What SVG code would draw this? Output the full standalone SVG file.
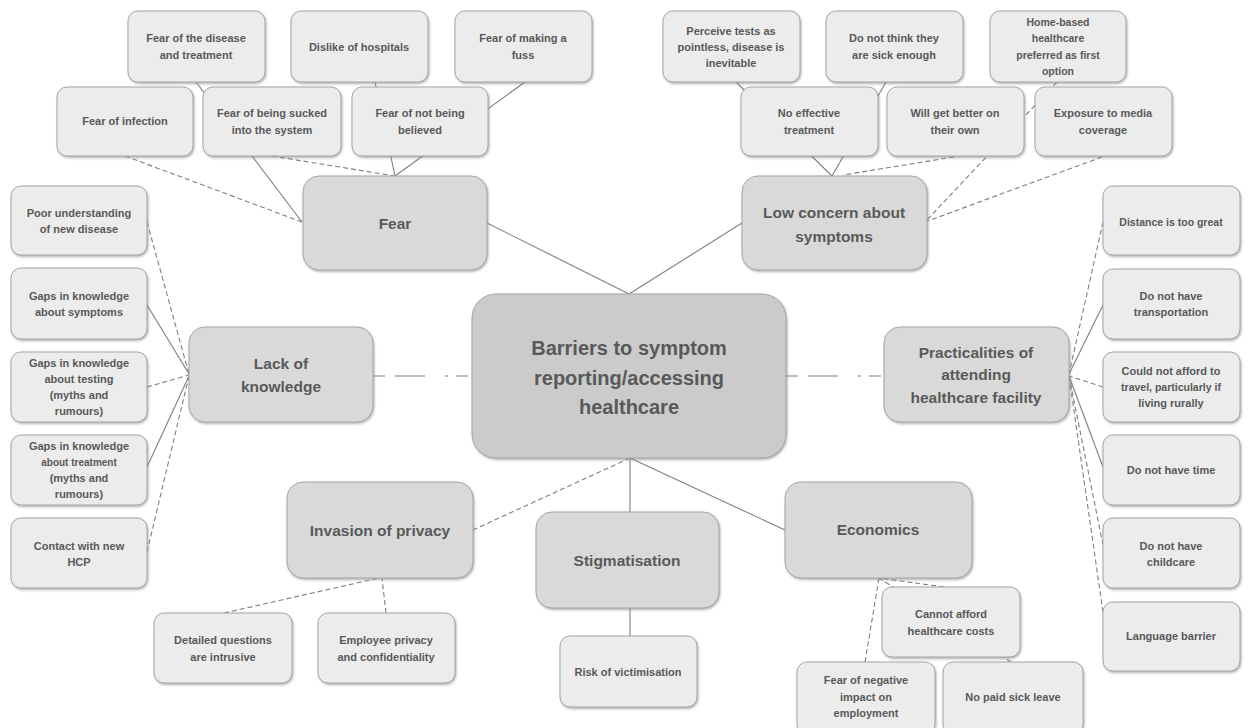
<svg xmlns="http://www.w3.org/2000/svg" width="1248" height="728" viewBox="0 0 1248 728">
<defs>
<style>
text{font-family:"Liberation Sans",Arial,sans-serif;font-weight:bold;fill:#595959;text-anchor:middle}
.leaf rect{fill:#ececec;stroke:#a6a6a6;stroke-width:1;filter:url(#sh)}
.cat rect{fill:#d9d9d9;stroke:#a6a6a6;stroke-width:1;filter:url(#sh)}
.ctr rect{fill:#cbcbcb;stroke:#a6a6a6;stroke-width:1;filter:url(#sh)}
.leaf text{font-size:11px}
.cat text{font-size:15.5px}
.ctr text{font-size:20px}
#connectors line{stroke:#7f7f7f;stroke-width:1.1;fill:none}
#connectors .d{stroke-dasharray:5 3}
#connectors .dd{stroke-dasharray:12 10 30 20 3 8}
</style>
<filter id="sh" x="-10%" y="-10%" width="125%" height="130%">
<feDropShadow dx="1" dy="1.5" stdDeviation="0.8" flood-color="#808080" flood-opacity="0.6"/>
</filter>
</defs>
<rect width="1248" height="728" fill="#ffffff"/>
<g id="connectors">
<line class="d" x1="125" y1="156" x2="302" y2="222"/>
<line x1="196" y1="82" x2="302" y2="222"/>
<line class="d" x1="272" y1="156" x2="395" y2="176"/>
<line x1="375" y1="82" x2="395" y2="176"/>
<line x1="525" y1="82" x2="395" y2="176"/>
<line x1="487" y1="223" x2="629" y2="294"/>
<line x1="742" y1="223" x2="629" y2="294"/>
<line class="dd" x1="373" y1="376" x2="472" y2="376"/>
<line class="dd" x1="786" y1="376" x2="884" y2="376"/>
<line x1="630" y1="458" x2="630" y2="512"/>
<line class="d" x1="630" y1="458" x2="473" y2="530"/>
<line x1="630" y1="458" x2="785" y2="530"/>
<line x1="736" y1="82" x2="832" y2="176"/>
<line x1="886" y1="82" x2="832" y2="176"/>
<line class="d" x1="1057" y1="82" x2="925" y2="222"/>
<line class="d" x1="954" y1="157" x2="843" y2="175"/>
<line class="d" x1="1102" y1="157" x2="925" y2="222"/>
<line class="d" x1="147" y1="222" x2="189" y2="374"/>
<line x1="147" y1="305" x2="189" y2="374"/>
<line class="d" x1="147" y1="387" x2="189" y2="375"/>
<line x1="147" y1="467" x2="189" y2="376"/>
<line class="d" x1="147" y1="552" x2="189" y2="376"/>
<line class="d" x1="1103" y1="222" x2="1069" y2="374"/>
<line x1="1103" y1="305" x2="1069" y2="374"/>
<line class="d" x1="1103" y1="387" x2="1069" y2="376"/>
<line x1="1103" y1="467" x2="1069" y2="376"/>
<line class="d" x1="1103" y1="545" x2="1069" y2="376"/>
<line class="d" x1="1103" y1="612" x2="1069" y2="376"/>
<line class="d" x1="224" y1="613" x2="379" y2="578"/>
<line class="d" x1="386" y1="613" x2="382" y2="578"/>
<line x1="630" y1="608" x2="630" y2="636"/>
<line class="d" x1="865" y1="662" x2="879" y2="578"/>
<line class="d" x1="944" y1="587" x2="879" y2="578"/>
<line class="d" x1="1011" y1="662" x2="879" y2="578"/>
</g>
<g id="center" class="ctr"><rect x="472" y="294" width="314" height="164" rx="24"/><text x="629" y="355">Barriers to symptom</text><text x="629" y="385">reporting/accessing</text><text x="629" y="414">healthcare</text></g>
<g id="fear" class="cat"><rect x="303" y="176" width="184" height="94" rx="16"/><text x="395" y="229">Fear</text></g>
<g id="low-concern" class="cat"><rect x="742" y="176" width="185" height="94" rx="16"/><text x="834" y="217.5">Low concern about</text><text x="834" y="241.5">symptoms</text></g>
<g id="lack-knowledge" class="cat"><rect x="189" y="327" width="184" height="95" rx="16"/><text x="281" y="368.5">Lack of</text><text x="281" y="391.5">knowledge</text></g>
<g id="practicalities" class="cat"><rect x="884" y="327" width="185" height="95" rx="16"/><text x="976" y="357.5">Practicalities of</text><text x="976" y="380">attending</text><text x="976" y="402.5">healthcare facility</text></g>
<g id="invasion" class="cat"><rect x="287" y="482" width="186" height="96" rx="16"/><text x="380" y="535.5">Invasion of privacy</text></g>
<g id="stigma" class="cat"><rect x="536" y="512" width="183" height="96" rx="16"/><text x="627" y="565.5">Stigmatisation</text></g>
<g id="economics" class="cat"><rect x="785" y="482" width="187" height="96" rx="16"/><text x="878" y="534.5">Economics</text></g>
<g id="f1" class="leaf"><rect x="128" y="11" width="137" height="71" rx="10"/><text x="196" y="42">Fear of the disease</text><text x="196" y="59">and treatment</text></g>
<g id="f2" class="leaf"><rect x="291" y="11" width="137" height="71" rx="10"/><text x="359" y="51">Dislike of hospitals</text></g>
<g id="f3" class="leaf"><rect x="455" y="11" width="137" height="71" rx="10"/><text x="523" y="42">Fear of making a</text><text x="523" y="59">fuss</text></g>
<g id="f4" class="leaf"><rect x="57" y="87" width="136" height="69" rx="10"/><text x="125" y="125">Fear of infection</text></g>
<g id="f5" class="leaf"><rect x="203" y="87" width="138" height="69" rx="10"/><text x="272" y="117">Fear of being sucked</text><text x="272" y="134">into the system</text></g>
<g id="f6" class="leaf"><rect x="352" y="87" width="136" height="69" rx="10"/><text x="420" y="117">Fear of not being</text><text x="420" y="134">believed</text></g>
<g id="l1" class="leaf"><rect x="663" y="11" width="137" height="71" rx="10"/><text x="731" y="35">Perceive tests as</text><text x="731" y="51">pointless, disease is</text><text x="731" y="67">inevitable</text></g>
<g id="l2" class="leaf"><rect x="826" y="11" width="137" height="71" rx="10"/><text x="894" y="42">Do not think they</text><text x="894" y="59">are sick enough</text></g>
<g id="l3" class="leaf"><rect x="990" y="11" width="136" height="71" rx="10"/><text x="1058" y="26" style="font-size:10.5px">Home-based</text><text x="1058" y="42" style="font-size:10.5px">healthcare</text><text x="1058" y="59" style="font-size:10.5px">preferred as first</text><text x="1058" y="75" style="font-size:10.5px">option</text></g>
<g id="l4" class="leaf"><rect x="741" y="87" width="137" height="69" rx="10"/><text x="809" y="117">No effective</text><text x="809" y="134">treatment</text></g>
<g id="l5" class="leaf"><rect x="887" y="87" width="137" height="69" rx="10"/><text x="955" y="117">Will get better on</text><text x="955" y="134">their own</text></g>
<g id="l6" class="leaf"><rect x="1035" y="87" width="137" height="69" rx="10"/><text x="1103" y="117">Exposure to media</text><text x="1103" y="134">coverage</text></g>
<g id="k1" class="leaf"><rect x="11" y="186" width="136" height="69" rx="10"/><text x="79" y="217">Poor understanding</text><text x="79" y="233">of new disease</text></g>
<g id="k2" class="leaf"><rect x="11" y="268" width="136" height="71" rx="10"/><text x="79" y="300">Gaps in knowledge</text><text x="79" y="316">about symptoms</text></g>
<g id="k3" class="leaf"><rect x="11" y="352" width="136" height="70" rx="10"/><text x="79" y="367">Gaps in knowledge</text><text x="79" y="383">about testing</text><text x="79" y="399">(myths and</text><text x="79" y="415">rumours)</text></g>
<g id="k4" class="leaf"><rect x="11" y="435" width="136" height="70" rx="10"/><text x="79" y="450">Gaps in knowledge</text><text x="79" y="466" style="font-size:10px">about treatment</text><text x="79" y="482">(myths and</text><text x="79" y="498">rumours)</text></g>
<g id="k5" class="leaf"><rect x="11" y="518" width="136" height="70" rx="10"/><text x="79" y="550">Contact with new</text><text x="79" y="566">HCP</text></g>
<g id="p1" class="leaf"><rect x="1103" y="186" width="137" height="69" rx="10"/><text x="1171" y="226" style="font-size:10.5px">Distance is too great</text></g>
<g id="p2" class="leaf"><rect x="1103" y="269" width="137" height="70" rx="10"/><text x="1171" y="300">Do not have</text><text x="1171" y="316">transportation</text></g>
<g id="p3" class="leaf"><rect x="1103" y="352" width="137" height="70" rx="10"/><text x="1171" y="375">Could not afford to</text><text x="1171" y="391" style="font-size:10.5px">travel, particularly if</text><text x="1171" y="407">living rurally</text></g>
<g id="p4" class="leaf"><rect x="1103" y="435" width="137" height="70" rx="10"/><text x="1171" y="474">Do not have time</text></g>
<g id="p5" class="leaf"><rect x="1103" y="518" width="137" height="70" rx="10"/><text x="1171" y="550">Do not have</text><text x="1171" y="566">childcare</text></g>
<g id="p6" class="leaf"><rect x="1103" y="602" width="137" height="69" rx="10"/><text x="1171" y="640">Language barrier</text></g>
<g id="i1" class="leaf"><rect x="154" y="613" width="138" height="70" rx="10"/><text x="223" y="644">Detailed questions</text><text x="223" y="661">are intrusive</text></g>
<g id="i2" class="leaf"><rect x="318" y="613" width="137" height="70" rx="10"/><text x="386" y="644">Employee privacy</text><text x="386" y="661">and confidentiality</text></g>
<g id="s1" class="leaf"><rect x="560" y="636" width="137" height="71" rx="10"/><text x="628" y="676">Risk of victimisation</text></g>
<g id="e1" class="leaf"><rect x="882" y="587" width="138" height="70" rx="10"/><text x="951" y="618">Cannot afford</text><text x="951" y="635">healthcare costs</text></g>
<g id="e2" class="leaf"><rect x="797" y="662" width="138" height="72" rx="10"/><text x="866" y="684">Fear of negative</text><text x="866" y="701">impact on</text><text x="866" y="717">employment</text></g>
<g id="e3" class="leaf"><rect x="943" y="662" width="140" height="72" rx="10"/><text x="1013" y="701">No paid sick leave</text></g>
</svg>
